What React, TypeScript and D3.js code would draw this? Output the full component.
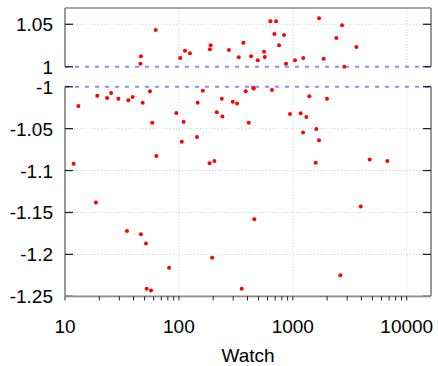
import * as d3 from "d3";

const W = 438;
const H = 366;

// watch counts and values in the upper panel (around +1)
const topWatch = [62.5, 46.4, 45.9, 102.8, 113, 125, 187, 190, 275, 335, 368, 430, 492, 559, 567, 635, 713, 689, 757, 838, 872, 1045, 1236, 1698, 1866, 2410, 2704, 2833, 3612];
const topValue = [1.0433, 1.0123, 1.0035, 1.0103, 1.0189, 1.0158, 1.0205, 1.0252, 1.0197, 1.0111, 1.0283, 1.0123, 1.0075, 1.0177, 1.0114, 1.0535, 1.0535, 1.0386, 1.0252, 1.0374, 1.0035, 1.0075, 1.0103, 1.057, 1.0094, 1.0338, 1.0488, 1.0, 1.0232];

// lower panel (around -1)
const bottomWatch = [13.1, 11.9, 19.2, 23.4, 25.4, 29.4, 36.0, 39.3, 48.1, 55.7, 58.4, 63.4, 94.9, 106, 110, 146, 144, 162, 186, 205, 215, 238, 241, 297, 324, 386, 410, 448, 454, 656, 1396, 1995, 944, 1172, 1314, 1608, 1230, 1698, 1589, 4731, 6761, 18.7, 35.0, 46.4, 51.4, 81.9, 52.1, 56.9, 196, 356, 459, 3945, 2613];
const bottomValue = [-1.023, -1.092, -1.0107, -1.0135, -1.0075, -1.0143, -1.0163, -1.0123, -1.0191, -1.0055, -1.043, -1.0827, -1.0314, -1.0656, -1.0418, -1.0191, -1.06, -1.0048, -1.0914, -1.0887, -1.0306, -1.0143, -1.0354, -1.0179, -1.0199, -1.0055, -1.043, -1.0012, -1.002, -1.0039, -1.0115, -1.0143, -1.0326, -1.0318, -1.0362, -1.0505, -1.0545, -1.064, -1.0907, -1.0867, -1.0887, -1.138, -1.172, -1.176, -1.187, -1.216, -1.241, -1.243, -1.204, -1.241, -1.158, -1.143, -1.225];

const xMajor = [10, 100, 1000, 10000];
const topTicks = [1, 1.05];
const bottomTicks = [-1, -1.05, -1.1, -1.15, -1.2, -1.25];

const LEFT = 65;
const RIGHT = 431;
const FONT = "'Liberation Sans', Arial, sans-serif";

export default function App() {
  const x = d3.scaleLog().domain([10, 16330]).range([LEFT, RIGHT]);
  const yTop = d3.scaleLinear().domain([1, 1.0692]).range([66.7, 8]);
  const yBot = d3.scaleLinear().domain([-1.25, -1]).range([296.3, 86.7]);

  const minor: number[] = [];
  for (const d of [10, 100, 1000]) for (let k = 2; k <= 9; k++) minor.push(d * k);

  const frame = "#888";
  const grid = "#cfcfcf";

  const panel = (y: d3.ScaleLinear<number, number>, ticks: number[], lineVal: number) => {
    const [y0, y1] = y.range();
    const yb = Math.max(y0, y1);
    const yt = Math.min(y0, y1);
    return (
      <g>
        {xMajor.slice(1).map((v) => (
          <line key={"vg" + v} x1={x(v)} x2={x(v)} y1={yt} y2={yb} stroke={grid} strokeDasharray="1,2" />
        ))}
        {ticks.filter((t) => t !== lineVal).map((t) => (
          <line key={"hg" + t} x1={LEFT} x2={RIGHT} y1={y(t)} y2={y(t)} stroke={grid} strokeDasharray="1,2" />
        ))}
        <line x1={LEFT} x2={RIGHT} y1={y(lineVal)} y2={y(lineVal)} stroke="#8c8cff" strokeWidth={2} strokeDasharray="4,6" />
        <line x1={LEFT} x2={LEFT} y1={yt} y2={yb} stroke={frame} strokeWidth={1.7} />
        <line x1={RIGHT} x2={RIGHT} y1={yt} y2={yb} stroke={frame} strokeWidth={1.7} />
        {ticks.map((t) => (
          <g key={"t" + t}>
            <line x1={LEFT} x2={LEFT + 8} y1={y(t)} y2={y(t)} stroke="#222" strokeWidth={1.3} />
            <line x1={RIGHT - 8} x2={RIGHT} y1={y(t)} y2={y(t)} stroke="#222" strokeWidth={1.3} />
            <text x={53} y={y(t) + 7} textAnchor="end" fontSize={19} fontFamily={FONT} fill="#000">
              {String(t)}
            </text>
          </g>
        ))}
      </g>
    );
  };

  return (
    <svg width={W} height={H} style={{ position: "absolute", left: 0, top: 0, background: "#fff" }}>
      {panel(yTop, topTicks, 1)}
      {panel(yBot, bottomTicks, -1)}
      <line x1={LEFT} x2={RIGHT} y1={8} y2={8} stroke={frame} strokeWidth={1.7} />
      <line x1={LEFT} x2={RIGHT} y1={296.3} y2={296.3} stroke={frame} strokeWidth={1.7} />
      {xMajor.concat(minor).map((v) => (
        <line key={"xt" + v} x1={x(v)} x2={x(v)} y1={296.3} y2={300.5} stroke="#222" strokeWidth={1} />
      ))}
      {xMajor.map((v) => (
        <text key={"xl" + v} x={x(v)} y={333} textAnchor="middle" fontSize={19} fontFamily={FONT} fill="#000">
          {v}
        </text>
      ))}
      <text x={(LEFT + RIGHT) / 2} y={361.5} textAnchor="middle" fontSize={19} fontFamily={FONT} fill="#000">
        Watch
      </text>
      {topWatch.map((w, i) => (
        <circle key={"p" + i} cx={x(w)} cy={yTop(topValue[i])} r={2} fill="#ff0000" />
      ))}
      {bottomWatch.map((w, i) => (
        <circle key={"q" + i} cx={x(w)} cy={yBot(bottomValue[i])} r={2} fill="#ff0000" />
      ))}
    </svg>
  );
}
